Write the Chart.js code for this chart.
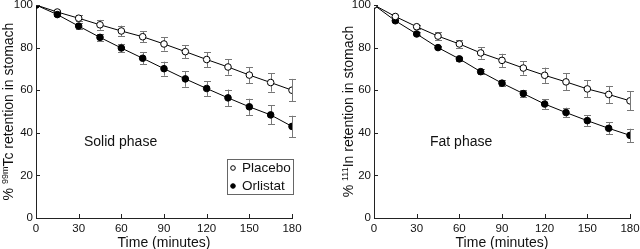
<!DOCTYPE html>
<html>
<head>
<meta charset="utf-8">
<script src="https://cdn.jsdelivr.net/npm/chart.js@4/dist/chart.umd.min.js"></script>
<style>
  body { margin: 0; background: #fff; }
  #wrap { position: relative; width: 640px; height: 249px; overflow: hidden; }
  canvas { position: absolute; top: 0; }
</style>
</head>
<body>
<div id="wrap">
  <canvas id="solid" width="320" height="249" style="left:0"></canvas>
  <canvas id="fat" width="320" height="249" style="left:320px"></canvas>
</div>
<script>
// time points (minutes)
const times = [0, 15, 30, 45, 60, 75, 90, 105, 120, 135, 150, 165, 180];
const xTicks = [0, 30, 60, 90, 120, 150, 180];
const yTicks = [0, 20, 40, 60, 80, 100];

// solid phase (99mTc)
const solidPlacebo    = [100, 96.7, 93.8, 90.7, 87.8, 85.1, 81.7, 78.1, 74.4, 70.9, 67.1, 63.6, 60.0];
const solidPlaceboErr = [0, 0.8, 1.5, 2.3, 2.5, 2.6, 3.1, 3.1, 3.5, 3.6, 3.8, 4.3, 5.3];
const solidOrlistat    = [100, 95.5, 90.1, 84.8, 79.8, 75.0, 70.1, 65.3, 60.8, 56.4, 52.2, 48.4, 43.0];
const solidOrlistatErr = [0, 0.7, 1.6, 1.5, 2.1, 2.9, 3.3, 3.7, 3.5, 3.9, 3.8, 4.5, 5.0];

// fat phase (111In)
const fatPlacebo    = [100, 94.6, 89.8, 85.4, 81.7, 77.5, 74.0, 70.4, 67.0, 63.9, 60.6, 58.0, 55.0];
const fatPlaceboErr = [0, 0.5, 1.0, 1.7, 1.7, 2.7, 3.1, 3.1, 3.6, 4.0, 4.0, 4.0, 4.5];
const fatOrlistat    = [100, 92.6, 86.4, 80.0, 74.7, 68.7, 63.3, 58.4, 53.5, 49.5, 45.7, 42.1, 38.8];
const fatOrlistatErr = [0, 0.5, 0.7, 0.7, 0.8, 1.2, 1.4, 1.7, 2.3, 2.3, 2.6, 2.8, 3.1];

const FONT = "'Liberation Sans', Arial, Helvetica, sans-serif";

function pts(vals) {
  return vals.map((v, i) => ({ x: times[i], y: v }));
}

// error bars drawn under the markers
const errorBars = {
  id: 'errorBars',
  beforeDatasetsDraw(chart) {
    const ctx = chart.ctx;
    const xs = chart.scales.x, ys = chart.scales.y;
    ctx.save();
    ctx.strokeStyle = '#777';
    ctx.lineWidth = 1;
    chart.data.datasets.forEach(ds => {
      ds.errors.forEach((e, i) => {
        if (!e) return;
        const x = Math.round(xs.getPixelForValue(times[i])) + 0.5;
        const y1 = ys.getPixelForValue(ds.data[i].y + e);
        const y2 = ys.getPixelForValue(ds.data[i].y - e);
        ctx.beginPath();
        ctx.moveTo(x, y1); ctx.lineTo(x, y2);
        ctx.moveTo(x - 3.5, Math.round(y1) + 0.5); ctx.lineTo(x + 3.5, Math.round(y1) + 0.5);
        ctx.moveTo(x - 3.5, Math.round(y2) + 0.5); ctx.lineTo(x + 3.5, Math.round(y2) + 0.5);
        ctx.stroke();
      });
    });
    ctx.restore();
  }
};

// inward tick marks, y title with superscript, panel label, legend
const decorations = {
  id: 'decorations',
  afterDraw(chart) {
    const ctx = chart.ctx;
    const o = chart.options.plugins.decorations;
    const xs = chart.scales.x, ys = chart.scales.y;
    const a = chart.chartArea;
    ctx.save();
    ctx.strokeStyle = '#222';
    ctx.lineWidth = 1;
    ctx.beginPath();
    xTicks.forEach(t => {
      const x = Math.round(xs.getPixelForValue(t)) + 0.5;
      ctx.moveTo(x, a.bottom); ctx.lineTo(x, a.bottom - 4);
    });
    yTicks.forEach(t => {
      const y = Math.round(ys.getPixelForValue(t)) + 0.5;
      ctx.moveTo(a.left, y); ctx.lineTo(a.left + 4, y);
    });
    ctx.stroke();

    // rotated y title: "% " + sup + rest
    ctx.fillStyle = '#111';
    ctx.textBaseline = 'alphabetic';
    ctx.textAlign = 'left';
    const main = '14px ' + FONT, sup = '9px ' + FONT;
    ctx.font = main;
    const w1 = ctx.measureText('% ').width;
    const w3 = ctx.measureText(o.yRest).width;
    ctx.font = sup;
    const w2 = ctx.measureText(o.ySup).width;
    const total = w1 + w2 + w3;
    ctx.translate(o.yTitleX, (a.top + a.bottom) / 2);
    ctx.rotate(-Math.PI / 2);
    let p = -total / 2;
    ctx.font = main; ctx.fillText('% ', p, 0); p += w1;
    ctx.font = sup; ctx.fillText(o.ySup, p, -5); p += w2;
    ctx.font = main; ctx.fillText(o.yRest, p, 0);
    ctx.setTransform(1, 0, 0, 1, 0, 0);

    ctx.font = '14px ' + FONT;
    ctx.textBaseline = 'middle';
    ctx.fillText(o.panel, o.panelX, o.panelY);

    if (o.legend) {
      const L = o.legend;
      ctx.strokeStyle = '#666';
      ctx.strokeRect(L.x + 0.5, L.y + 0.5, L.w, L.h);
      chart.data.datasets.forEach((ds, i) => {
        const cy = L.y + 9 + i * 18;
        ctx.beginPath();
        ctx.arc(L.x + 6, cy, 2.3, 0, Math.PI * 2);
        ctx.fillStyle = ds.pointBackgroundColor;
        ctx.fill();
        ctx.strokeStyle = '#000';
        ctx.stroke();
        ctx.fillStyle = '#111';
        ctx.font = '13.5px ' + FONT;
        ctx.fillText(ds.label, L.x + 15, cy + 0.5);
      });
    }
    ctx.restore();
  }
};

function makeChart(id, placebo, placeboErr, orlistat, orlistatErr, cfg) {
  const dsPlacebo = {
    label: 'Placebo', data: pts(placebo), errors: placeboErr,
    borderColor: '#000', borderWidth: 1, pointBackgroundColor: '#fff',
    pointBorderColor: '#000', pointBorderWidth: 1, pointRadius: 3.3,
    order: cfg.placeboOnTop ? 0 : 1
  };
  const dsOrlistat = {
    label: 'Orlistat', data: pts(orlistat), errors: orlistatErr,
    borderColor: '#000', borderWidth: 1, pointBackgroundColor: '#000',
    pointBorderColor: '#000', pointBorderWidth: 1, pointRadius: 3.3,
    order: cfg.placeboOnTop ? 1 : 0
  };
  return new Chart(id, {
    type: 'line',
    data: { datasets: [dsPlacebo, dsOrlistat] },
    plugins: [errorBars, decorations],
    options: {
      responsive: false,
      animation: false,
      devicePixelRatio: 1,
      layout: { padding: { top: 4, right: cfg.padRight, left: 0, bottom: 0 } },
      scales: {
        x: {
          type: 'linear', min: 0, max: 180,
          afterFit(s) { s.height = 31; s.paddingLeft = 0; s.paddingRight = 0; },
          afterBuildTicks(s) { s.ticks = xTicks.map(v => ({ value: v })); },
          grid: { display: false, drawTicks: false },
          border: { display: true, color: '#222', width: 1 },
          ticks: { color: '#111', font: { family: FONT, size: 11.5 }, padding: 4, maxRotation: 0, autoSkip: false },
          title: { display: true, text: 'Time (minutes)', color: '#111', font: { family: FONT, size: 14, lineHeight: 0.9 }, padding: 0 }
        },
        y: {
          min: 0, max: 100,
          afterFit(s) { s.width = cfg.yWidth; s.paddingTop = 0; s.paddingBottom = 0; },
          afterBuildTicks(s) { s.ticks = yTicks.map(v => ({ value: v })); },
          grid: { display: false, drawTicks: false },
          border: { display: true, color: '#222', width: 1 },
          ticks: { color: '#111', font: { family: FONT, size: 11.5 }, padding: 3 }
        }
      },
      plugins: {
        legend: { display: false },
        tooltip: { enabled: false },
        decorations: cfg.deco
      }
    }
  });
}

makeChart('solid', solidPlacebo, solidPlaceboErr, solidOrlistat, solidOrlistatErr, {
  padRight: 28, yWidth: 36, placeboOnTop: false,
  deco: {
    yTitleX: 13, ySup: '99m', yRest: 'Tc retention in stomach',
    panel: 'Solid phase', panelX: 84, panelY: 142,
    legend: { x: 227, y: 159, w: 66, h: 35 }
  }
});

makeChart('fat', fatPlacebo, fatPlaceboErr, fatOrlistat, fatOrlistatErr, {
  padRight: 10, yWidth: 54, placeboOnTop: true,
  deco: {
    yTitleX: 33, ySup: '111', yRest: 'In retention in stomach',
    panel: 'Fat phase', panelX: 110, panelY: 142
  }
});
</script>
</body>
</html>
